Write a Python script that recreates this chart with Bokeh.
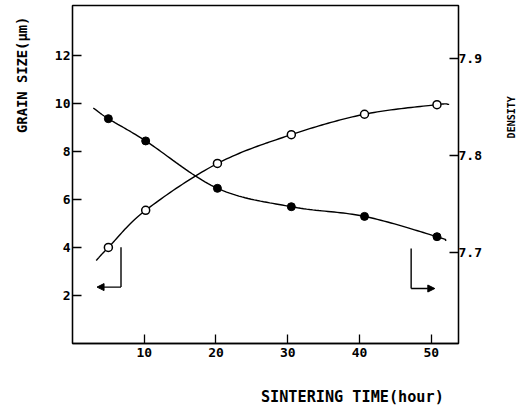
import numpy as np
from bokeh.plotting import figure
from bokeh.models import Range1d, LinearAxis, FixedTicker, Arrow, NormalHead
from bokeh.embed import file_html
from bokeh.resources import INLINE

# ---- data ----
time_h = [5.0, 10.2, 20.2, 30.5, 40.7, 50.8]
grain_um = [4.0, 5.55, 7.5, 8.7, 9.55, 9.95]
density = [7.838, 7.815, 7.766, 7.747, 7.737, 7.716]

# ends of the hand-drawn fit curves (time, value)
grain_curve_ends = [(3.3, 3.46), (52.5, 9.96)]
density_curve_ends = [(2.9, 7.849), (52.1, 7.712)]

x_ticks = [10, 20, 30, 40, 50]
left_ticks = [2, 4, 6, 8, 10, 12]
right_ticks = [7.7, 7.8, 7.9]

# arrow markers (time, grain-size scale)
left_arrow = dict(x_corner=6.76, y_top=4.01, y_corner=2.35, x_tip=3.42)
right_arrow = dict(x_corner=47.2, y_top=3.96, y_corner=2.29, x_tip=50.5)

FONT = "DejaVu Sans Mono"
NB = "\u00a0"


def smooth(xs, ys, n=24):
    P = np.column_stack([xs, ys]).astype(float)
    P = np.vstack([2 * P[0] - P[1], P, 2 * P[-1] - P[-2]])
    out = []
    for i in range(1, len(P) - 2):
        p0, p1, p2, p3 = P[i - 1], P[i], P[i + 1], P[i + 2]
        t = np.linspace(0, 1, n, endpoint=False)[:, None]
        seg = 0.5 * ((2 * p1) + (-p0 + p2) * t + (2 * p0 - 5 * p1 + 4 * p2 - p3) * t ** 2
                     + (-p0 + 3 * p1 - 3 * p2 + p3) * t ** 3)
        out.append(seg)
    out.append(P[-2][None, :])
    A = np.vstack(out)
    return A[:, 0], A[:, 1]


p = figure(width=525, height=408, output_backend="svg", toolbar_location=None,
           x_range=Range1d(0, 53.8), y_range=Range1d(0, 14.08),
           min_border_left=72, min_border_right=66, min_border_top=5, min_border_bottom=65)
p.extra_y_ranges = {"dens": Range1d(7.6056, 7.955)}
p.xgrid.visible = False
p.ygrid.visible = False
p.outline_line_color = "black"
p.outline_line_width = 1.3
p.background_fill_color = "white"
p.border_fill_color = "white"

ra = LinearAxis(y_range_name="dens", ticker=FixedTicker(ticks=right_ticks))
p.add_layout(ra, "right")

for ax in (p.xaxis[0], p.yaxis[0], ra):
    ax.axis_line_width = 1.3
    ax.axis_line_color = "black"
    ax.major_tick_in = 9
    ax.major_tick_out = 0
    ax.minor_tick_line_color = None
    ax.major_tick_line_width = 1.3
    ax.major_tick_line_color = "black"
    ax.major_label_text_font = FONT
    ax.major_label_text_font_style = "bold"
    ax.major_label_text_font_size = "13px"
    ax.major_label_text_color = "black"
    ax.axis_label_text_font = FONT
    ax.axis_label_text_font_style = "bold"
    ax.axis_label_text_color = "black"

p.xaxis[0].ticker = FixedTicker(ticks=x_ticks)
p.xaxis[0].major_label_standoff = 4
p.xaxis[0].axis_label = NB * 19 + "SINTERING TIME(hour)"
p.xaxis[0].axis_label_text_font_size = "15.2px"
p.xaxis[0].axis_label_standoff = 28

p.yaxis[0].ticker = FixedTicker(ticks=left_ticks)
p.yaxis[0].major_label_standoff = 2
p.yaxis[0].axis_label = NB * 24 + "GRAIN SIZE(\u03bcm)"
p.yaxis[0].axis_label_text_font_size = "13.8px"
p.yaxis[0].axis_label_standoff = 22

ra.major_label_standoff = 0
ra.axis_label = NB * 6 + "DENSITY"
ra.axis_label_orientation = np.pi / 2
ra.axis_label_text_font_size = "10px"
ra.axis_label_standoff = 27

# curves
gx, gy = smooth([grain_curve_ends[0][0]] + time_h + [grain_curve_ends[1][0]],
                [grain_curve_ends[0][1]] + grain_um + [grain_curve_ends[1][1]])
p.line(gx, gy, line_color="black", line_width=1.4)
dx, dy = smooth([density_curve_ends[0][0]] + time_h + [density_curve_ends[1][0]],
                [density_curve_ends[0][1]] + density + [density_curve_ends[1][1]])
p.line(dx, dy, line_color="black", line_width=1.4, y_range_name="dens")

p.scatter(time_h, grain_um, size=8, marker="circle", fill_color="white",
          line_color="black", line_width=1.5)
p.scatter(time_h, density, size=8, marker="circle", fill_color="black",
          line_color="black", y_range_name="dens")

# arrows
for a in (left_arrow, right_arrow):
    p.segment(x0=[a["x_corner"]], y0=[a["y_top"]], x1=[a["x_corner"]], y1=[a["y_corner"]],
              line_color="black", line_width=1.4)
    p.add_layout(Arrow(x_start=a["x_corner"], y_start=a["y_corner"],
                       x_end=a["x_tip"], y_end=a["y_corner"], line_width=1.4,
                       end=NormalHead(size=7, fill_color="black", line_color="black")))

open("out.html", "w").write(file_html(p, INLINE))
